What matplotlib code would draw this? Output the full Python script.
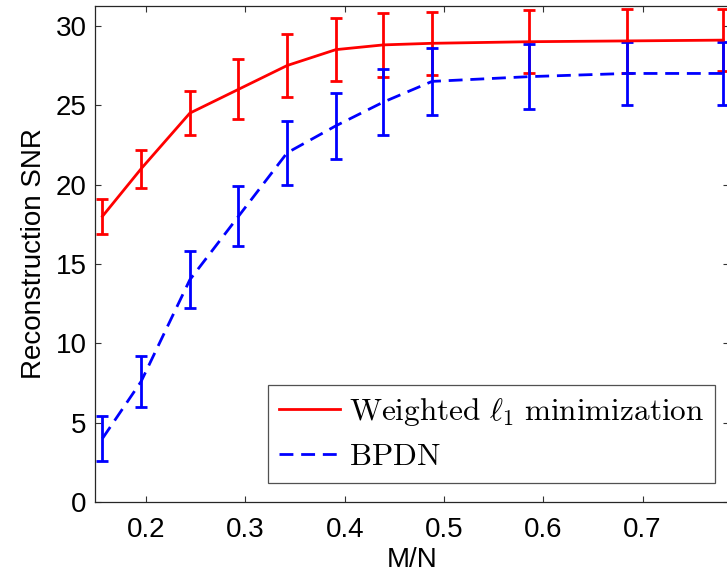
import numpy as np
import matplotlib
matplotlib.use('Agg')
import matplotlib.pyplot as plt
from matplotlib.lines import Line2D

# M/N values (M = 160..800, N = 1024)
m_over_n = [0.156, 0.195, 0.244, 0.293, 0.342, 0.391, 0.439, 0.488, 0.586, 0.684, 0.781]

snr_weighted = [18.0, 21.0, 24.5, 26.0, 27.5, 28.5, 28.8, 28.9, 29.0, 29.05, 29.1]
err_weighted = [1.1, 1.2, 1.4, 1.9, 2.0, 2.0, 2.0, 2.0, 2.0, 2.0, 1.95]

snr_bpdn = [4.0, 7.6, 14.0, 18.0, 22.0, 23.7, 25.2, 26.5, 26.8, 27.0, 27.0]
err_bpdn = [1.4, 1.6, 1.8, 1.9, 2.0, 2.1, 2.1, 2.1, 2.07, 2.0, 1.97]

x_ticks = [0.2, 0.3, 0.4, 0.5, 0.6, 0.7]
y_ticks = [0, 5, 10, 15, 20, 25, 30]

plt.rcParams['font.family'] = ['Liberation Sans', 'DejaVu Sans']
plt.rcParams['mathtext.fontset'] = 'cm'

fig = plt.figure(figsize=(7.27, 5.79), dpi=100)
ax = fig.add_axes([95 / 727, 77 / 579, 634 / 727, 496 / 579])

dash = (0, (5, 2.8))
ax.errorbar(m_over_n, snr_weighted, yerr=err_weighted, color='#ff0000', lw=2,
            elinewidth=2, capsize=4, capthick=2)
ax.errorbar(m_over_n, snr_bpdn, yerr=err_bpdn, color='#0000ff', lw=2,
            linestyle=dash, elinewidth=2, capsize=4, capthick=2)

ax.set_xlim(0.1485, 0.787)
ax.set_ylim(0, 31.25)
ax.set_xticks(x_ticks)
ax.set_xticklabels(['0.2', '0.3', '0.4', '0.5', '0.6', '0.7'])
ax.set_yticks(y_ticks)

ax.tick_params(direction='in', length=4, width=0.8, top=True, right=True,
               labelsize=20, colors='#333333', labelcolor='black')
ax.tick_params(axis='x', pad=11)
ax.tick_params(axis='y', pad=6)
for s in ax.spines.values():
    s.set_color('#262626')
    s.set_linewidth(0.9)

ax.set_xlabel('M/N', fontsize=20, labelpad=3)
ax.set_ylabel('Reconstruction SNR', fontsize=20, labelpad=6)

handles = [Line2D([], [], color='#ff0000', lw=2),
           Line2D([], [], color='#0000ff', lw=2, linestyle=dash)]
labels = [r'$\mathrm{Weighted}\ \ell_1\ \mathrm{minimization}$', r'$\mathrm{BPDN}$']
leg = ax.legend(handles, labels, loc='lower right',
                bbox_to_anchor=(715 / 727, 96 / 579),
                bbox_transform=fig.transFigure, fontsize=22.5, frameon=True,
                fancybox=False, edgecolor='#262626', handlelength=1.95,
                borderpad=0.35, labelspacing=0.45, handletextpad=0.3,
                borderaxespad=0)
leg.get_frame().set_linewidth(0.9)

fig.savefig('out.png', dpi=100)
